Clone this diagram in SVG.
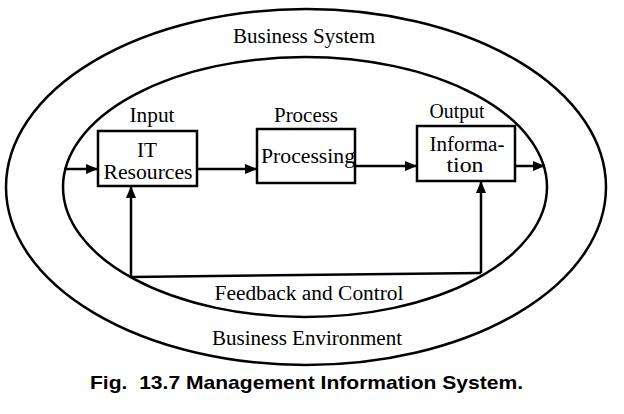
<svg xmlns="http://www.w3.org/2000/svg" width="624" height="414" viewBox="0 0 624 414">
<style>
.t{font-family:"Liberation Serif","Times New Roman",serif;font-size:20px;fill:#000;text-anchor:middle}
.c{font-family:"Liberation Sans",Arial,sans-serif;font-size:19px;font-weight:bold;fill:#000}
.box{fill:#fff;stroke:#000;stroke-width:2.5}
.ln{fill:none;stroke:#000;stroke-width:2.5}
.el{fill:none;stroke:#000;stroke-width:2.5}
</style>
<defs>
<marker id="ah" viewBox="0 0 12 10" refX="12" refY="5" markerWidth="12" markerHeight="10" markerUnits="userSpaceOnUse" orient="auto">
<path d="M0,0 L12,5 L0,10 Z" fill="#000"/>
</marker>
</defs>
<rect width="624" height="414" fill="#fff"/>
<g id="business-system">
<ellipse class="el" cx="306" cy="187" rx="300" ry="178"/>
<text class="t" x="304" y="43" textLength="142" lengthAdjust="spacingAndGlyphs">Business System</text>
<text class="t" x="307" y="345" textLength="190" lengthAdjust="spacingAndGlyphs">Business Environment</text>
</g>
<g id="system-boundary">
<ellipse class="el" cx="305" cy="187" rx="242" ry="130"/>
</g>
<g id="connectors">
<line class="ln" x1="64" y1="169" x2="98" y2="169" marker-end="url(#ah)"/>
<line class="ln" x1="197" y1="169" x2="257" y2="169" marker-end="url(#ah)"/>
<line class="ln" x1="355" y1="166" x2="417" y2="166" marker-end="url(#ah)"/>
<line class="ln" x1="515" y1="166" x2="545" y2="166" marker-end="url(#ah)"/>
<polyline class="ln" points="481,273 131,277"/>
<line class="ln" x1="131" y1="277" x2="131" y2="186" marker-end="url(#ah)"/>
<line class="ln" x1="481" y1="273" x2="481" y2="181" marker-end="url(#ah)"/>
<text class="t" x="309" y="300" textLength="189" lengthAdjust="spacingAndGlyphs">Feedback and Control</text>
</g>
<g id="input">
<rect class="box" x="98" y="131" width="99" height="55"/>
<text class="t" x="152" y="122" textLength="45" lengthAdjust="spacingAndGlyphs">Input</text>
<text class="t" x="147" y="157" textLength="20" lengthAdjust="spacingAndGlyphs">IT</text>
<text class="t" x="148" y="179" textLength="89" lengthAdjust="spacingAndGlyphs">Resources</text>
</g>
<g id="process">
<rect class="box" x="257" y="129" width="98" height="54"/>
<text class="t" x="306" y="122" textLength="64" lengthAdjust="spacingAndGlyphs">Process</text>
<text class="t" x="308" y="163" textLength="94" lengthAdjust="spacingAndGlyphs">Processing</text>
</g>
<g id="output">
<rect class="box" x="417" y="126" width="98" height="55"/>
<text class="t" x="457" y="118" textLength="55" lengthAdjust="spacingAndGlyphs">Output</text>
<text class="t" x="467" y="151" textLength="75" lengthAdjust="spacingAndGlyphs">Informa-</text>
<text class="t" x="465" y="172" textLength="37" lengthAdjust="spacingAndGlyphs">tion</text>
</g>
<text class="c" x="90" y="389" textLength="433" lengthAdjust="spacingAndGlyphs" xml:space="preserve">Fig.  13.7 Management Information System.</text>
</svg>
